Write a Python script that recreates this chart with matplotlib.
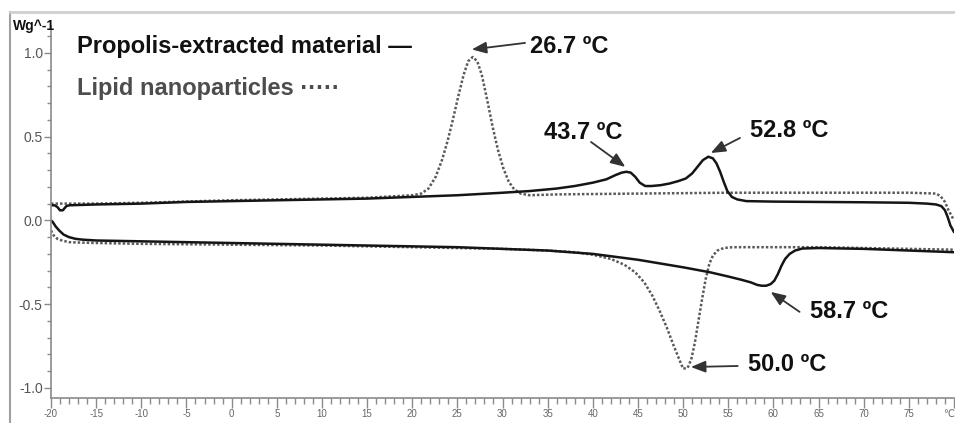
import matplotlib.pyplot as plt
from matplotlib.lines import Line2D
from matplotlib.ticker import MultipleLocator

plt.rcParams['font.family'] = ['Liberation Sans', 'DejaVu Sans']

# DSC thermograms: heat flow (W/g) vs temperature (°C)
# propolis-extracted material, heating run
heat_prop_t = [-20, -19.6, -19.3, -19.0, -18.7, -18.3, -18.0, -15, -10, -5, 0, 5, 10, 15, 20,
               25, 30, 33, 36, 38, 40, 41.5, 42.5, 43.2, 43.7, 44.2, 44.7, 45.2, 45.8, 46.5,
               47.5, 48.5, 49.5, 50.3, 51.0, 51.6, 52.2, 52.8, 53.3, 53.7, 54.1, 54.5, 54.9,
               55.4, 56.0, 57.0, 60, 65, 70, 75, 77, 78.0, 78.6, 79.0, 79.3, 79.6, 80]
heat_prop_q = [0.09, 0.09, 0.08, 0.06, 0.06, 0.085, 0.09, 0.095, 0.10, 0.11, 0.115, 0.12, 0.125,
               0.13, 0.14, 0.15, 0.165, 0.175, 0.19, 0.205, 0.225, 0.245, 0.27, 0.285, 0.29,
               0.285, 0.26, 0.225, 0.205, 0.205, 0.21, 0.22, 0.235, 0.25, 0.28, 0.32, 0.36,
               0.38, 0.37, 0.34, 0.29, 0.23, 0.175, 0.14, 0.125, 0.115, 0.112, 0.11, 0.108,
               0.105, 0.10, 0.095, 0.085, 0.06, 0.02, -0.03, -0.07]

# lipid nanoparticles, heating run
heat_lnp_t = [-20, -18, -15, -10, 0, 10, 15, 20, 21.0, 21.8, 22.6, 23.3, 23.9, 24.5, 25.1, 25.7,
              26.2, 26.7, 27.2, 27.7, 28.3, 28.9, 29.5, 30.1, 30.7, 31.3, 32.0, 33.0, 36, 45,
              55, 65, 75, 78.0, 78.5, 79.0, 79.4, 79.8, 80]
heat_lnp_q = [0.10, 0.10, 0.10, 0.105, 0.12, 0.13, 0.135, 0.15, 0.16, 0.19, 0.26, 0.36, 0.47,
              0.60, 0.74, 0.87, 0.95, 0.975, 0.95, 0.87, 0.72, 0.56, 0.42, 0.31, 0.23, 0.185,
              0.16, 0.15, 0.155, 0.16, 0.165, 0.165, 0.165, 0.16, 0.145, 0.11, 0.06, 0.02, 0.0]

# propolis-extracted material, cooling run
cool_prop_t = [-20, -19.8, -19.5, -19.1, -18.6, -18.0, -17.3, -16.5, -15, -10, -5, 0, 5, 10, 15,
               20, 25, 30, 35, 40, 45, 50, 53, 55, 56.5, 57.5, 58.2, 58.7, 59.2, 59.7, 60.1,
               60.5, 60.9, 61.3, 61.8, 62.4, 63.2, 65, 70, 75, 80]
cool_prop_q = [0.0, -0.01, -0.035, -0.06, -0.085, -0.10, -0.11, -0.115, -0.12, -0.125, -0.13,
               -0.135, -0.14, -0.145, -0.15, -0.155, -0.16, -0.17, -0.18, -0.20, -0.235, -0.28,
               -0.31, -0.335, -0.355, -0.37, -0.385, -0.39, -0.39, -0.38, -0.36, -0.32, -0.27,
               -0.23, -0.20, -0.18, -0.168, -0.165, -0.17, -0.18, -0.19]

# lipid nanoparticles, cooling run
cool_lnp_t = [-20, -19.7, -19.3, -18.8, -18.0, -17, -15, -10, 0, 10, 20, 30, 35, 38, 40, 42,
              43.5, 44.7, 45.7, 46.6, 47.4, 48.2, 48.9, 49.5, 50.0, 50.5, 50.9, 51.3, 51.7,
              52.1, 52.5, 52.9, 53.3, 53.8, 54.5, 55.5, 60, 65, 70, 75, 80]
cool_lnp_q = [-0.06, -0.09, -0.11, -0.12, -0.13, -0.132, -0.135, -0.14, -0.145, -0.15, -0.16,
              -0.17, -0.18, -0.19, -0.205, -0.23, -0.265, -0.31, -0.37, -0.45, -0.54, -0.64,
              -0.74, -0.82, -0.885, -0.88, -0.83, -0.73, -0.60, -0.47, -0.35, -0.26, -0.21,
              -0.18, -0.165, -0.16, -0.16, -0.16, -0.165, -0.17, -0.175]

# labelled transition temperatures
peak_temps = [26.7, 43.7, 52.8, 58.7, 50.0]

xtick_vals = list(range(-20, 81, 5))
xtick_labels = [str(v) for v in range(-20, 80, 5)] + ['℃']
ytick_vals = [-1.0, -0.5, 0.0, 0.5, 1.0]
ytick_labels = ['-1.0', '-0.5', '0.0', '0.5', '1.0']

W, H = 955, 423
fig = plt.figure(figsize=(W / 100, H / 100), dpi=100)
ax = fig.add_axes([51 / W, 1 - 398 / H, 903 / W, 372 / H])

solid = dict(color='#151515', lw=1.8, solid_capstyle='round')
dotted = dict(color='#5a5a5a', lw=1.8, linestyle=(0, (1, 0.8)))
ax.plot(heat_lnp_t, heat_lnp_q, **dotted)
ax.plot(cool_lnp_t, cool_lnp_q, **dotted)
ax.plot(heat_prop_t, heat_prop_q, **solid)
ax.plot(cool_prop_t, cool_prop_q, **solid)

ax.set_xlim(-20, 80)
ax.set_ylim(-1.06, 1.16)
for side in ['top', 'right']:
    ax.spines[side].set_visible(False)
for side in ['left', 'bottom']:
    ax.spines[side].set_color('#8a8a8a')
    ax.spines[side].set_linewidth(1.2)

ax.set_xticks(xtick_vals)
ax.set_xticklabels(xtick_labels)
ax.get_xticklabels()[-1].set_horizontalalignment('right')
ax.xaxis.set_minor_locator(MultipleLocator(1))
ax.set_yticks(ytick_vals)
ax.set_yticklabels(ytick_labels)
ax.yaxis.set_minor_locator(MultipleLocator(0.1))
ax.tick_params(axis='x', which='major', direction='out', length=7, width=1, color='#8a8a8a',
               labelsize=7, labelcolor='#666666', pad=1)
ax.tick_params(axis='x', which='minor', direction='out', length=4, width=1, color='#8a8a8a')
ax.tick_params(axis='y', which='major', direction='out', length=5, width=1, color='#8a8a8a',
               labelsize=10, labelcolor='#555555', pad=1)
ax.tick_params(axis='y', which='minor', direction='out', length=3, width=1, color='#8a8a8a')

# peak labels with arrows: (text anchor, arrow tail, arrow head)
label_pos = [(33.1, 1.04), (34.6, 0.527), (57.4, 0.539), (64.1, -0.546), (57.15, -0.863)]
arrow_tail = [(32.5, 1.059), (39.8, 0.468), (56.3, 0.492), (62.9, -0.546), (56.05, -0.869)]
arrow_head = [(26.6, 1.02), (43.6, 0.319), (53.07, 0.402), (59.7, -0.427), (50.86, -0.875)]
for t, lp, tail, head in zip(peak_temps, label_pos, arrow_tail, arrow_head):
    ax.text(lp[0], lp[1], f'{t:.1f} ºC', fontsize=17, fontweight='bold', color='#111111',
            ha='left', va='center')
    ax.annotate('', xy=head, xytext=tail,
                arrowprops=dict(arrowstyle='-|>,head_length=0.55,head_width=0.22',
                                mutation_scale=16, color='#333333', lw=1.3,
                                shrinkA=0, shrinkB=0))

fig.text(77 / W, 1 - 46 / H, 'Propolis-extracted material —', fontsize=17, fontweight='bold',
         color='#111111', va='center')
fig.text(77 / W, 1 - 88 / H, 'Lipid nanoparticles ·····', fontsize=17, fontweight='bold',
         color='#4d4d4d', va='center')
fig.text(13 / W, 1 - 26 / H, 'Wg^-1', fontsize=10, fontweight='bold', color='#111111',
         va='center')

# outer frame
fig.add_artist(Line2D([10 / W, 10 / W], [0, 1 - 12 / H], transform=fig.transFigure,
                      color='#a0a0a0', lw=1.5))
fig.add_artist(Line2D([10 / W, 1], [1 - 12 / H, 1 - 12 / H], transform=fig.transFigure,
                      color='#cfcfcf', lw=2))

fig.savefig('out.png', dpi=100)
